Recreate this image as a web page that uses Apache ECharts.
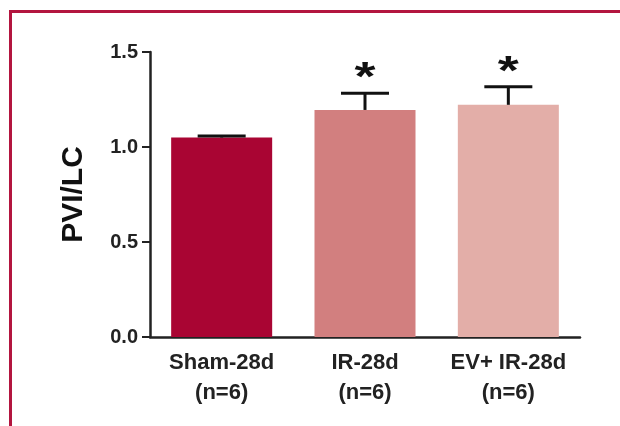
<!DOCTYPE html>
<html><head><meta charset="utf-8">
<script src="https://cdn.jsdelivr.net/npm/echarts@6/dist/echarts.min.js"></script>
<style>html,body{margin:0;padding:0;background:#fff}#c{width:620px;height:426px}</style>
</head><body><div id="c"></div>
<script>
var categories = ['Sham-28d\n(n=6)', 'IR-28d\n(n=6)', 'EV+ IR-28d\n(n=6)'];
var means = [1.05, 1.195, 1.222];
var sems = [0.008, 0.088, 0.095];
var marks = ['', '*', '*'];
var barColors = ['#a90533', '#d27f7f', '#e3aea8'];
var yTicks = [0, 0.5, 1.0, 1.5];

var chart = echarts.init(document.getElementById('c'));
var errData = means.map(function (m, i) { return [i, m, m + sems[i], marks[i]]; });
chart.setOption({
  animation: false,
  grid: { left: 150, right: 40, top: 52, bottom: 89 },
  graphic: [
    { type: 'line', shape: { x1: 9, y1: 11.5, x2: 620, y2: 11.5 }, style: { stroke: '#b3153f', lineWidth: 3 } },
    { type: 'line', shape: { x1: 10.5, y1: 10, x2: 10.5, y2: 426 }, style: { stroke: '#b3153f', lineWidth: 3 } }
  ],
  xAxis: {
    type: 'category', data: categories,
    axisLine: { lineStyle: { color: '#222', width: 2.5 } },
    axisTick: { show: false },
    axisLabel: { interval: 0, color: '#222', fontFamily: 'Liberation Sans, Arial', fontWeight: 'bold', fontSize: 22, lineHeight: 30, margin: 11 }
  },
  yAxis: {
    type: 'value', min: 0, max: 1.5, interval: 0.5,
    name: 'PVI/LC', nameLocation: 'middle', nameGap: 61,
    nameTextStyle: { color: '#111', fontFamily: 'Liberation Sans, Arial', fontWeight: 'bold', fontSize: 30 },
    axisLine: { show: true, lineStyle: { color: '#222', width: 2.5 } },
    axisTick: { show: true, length: 8, lineStyle: { color: '#222', width: 2 } },
    splitLine: { show: false },
    axisLabel: { color: '#222', fontFamily: 'Liberation Sans, Arial', fontWeight: 'bold', fontSize: 20, margin: 12,
      formatter: function (v) { return v.toFixed(1); } }
  },
  series: [
    {
      type: 'bar', barWidth: 101,
      data: means.map(function (m, i) { return { value: m, itemStyle: { color: barColors[i] } }; })
    },
    {
      type: 'custom', data: errData, z: 10,
      renderItem: function (params, api) {
        var x = api.coord([api.value(0), 0])[0];
        var yb = api.coord([0, api.value(1)])[1];
        var yt = api.coord([0, api.value(2)])[1];
        var mark = api.value(3);
        var ch = [
          { type: 'line', shape: { x1: x, y1: yb, x2: x, y2: yt }, style: { stroke: '#111', lineWidth: 3 } },
          { type: 'line', shape: { x1: x - 24, y1: yt, x2: x + 24, y2: yt }, style: { stroke: '#111', lineWidth: 3 } }
        ];
        if (mark) {
          ch.push({ type: 'text', x: x, y: yt + 6, scaleX: 1.35,
            style: { text: mark, fill: '#111', font: 'bold 40px Liberation Sans, Arial', align: 'center', verticalAlign: 'bottom' } });
        }
        return { type: 'group', children: ch };
      }
    }
  ]
});
</script></body></html>
